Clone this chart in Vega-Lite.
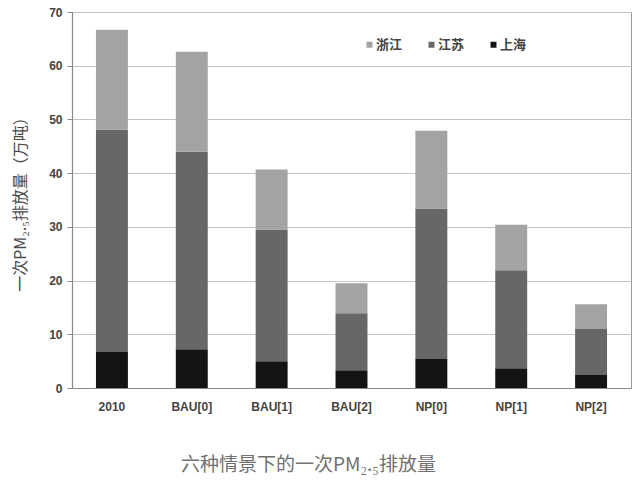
{
  "$schema": "https://vega.github.io/schema/vega-lite/v6.json",
  "width": 559,
  "height": 376,
  "autosize": {"type": "none"},
  "padding": {"left": 72, "top": 12, "right": 9, "bottom": 96},
  "background": "white",
  "config": {
    "view": {"stroke": "#9a9a9a", "strokeWidth": 1},
    "font": "Noto Sans CJK SC"
  },
  "title": {
    "text": "六种情景下的一次PM₂.₅排放量",
    "orient": "bottom",
    "anchor": "middle",
    "dx": -43,
    "offset": 44,
    "fontSize": 19,
    "fontWeight": "normal",
    "color": "#707070",
    "font": "Noto Sans CJK SC"
  },
  "data": {
    "values": [
      {"scenario": "2010", "region": "上海", "value": 6.7, "rank": 1},
      {"scenario": "2010", "region": "江苏", "value": 41.4, "rank": 2},
      {"scenario": "2010", "region": "浙江", "value": 18.6, "rank": 3},
      {"scenario": "BAU[0]", "region": "上海", "value": 7.2, "rank": 1},
      {"scenario": "BAU[0]", "region": "江苏", "value": 36.8, "rank": 2},
      {"scenario": "BAU[0]", "region": "浙江", "value": 18.6, "rank": 3},
      {"scenario": "BAU[1]", "region": "上海", "value": 5.0, "rank": 1},
      {"scenario": "BAU[1]", "region": "江苏", "value": 24.5, "rank": 2},
      {"scenario": "BAU[1]", "region": "浙江", "value": 11.2, "rank": 3},
      {"scenario": "BAU[2]", "region": "上海", "value": 3.3, "rank": 1},
      {"scenario": "BAU[2]", "region": "江苏", "value": 10.6, "rank": 2},
      {"scenario": "BAU[2]", "region": "浙江", "value": 5.6, "rank": 3},
      {"scenario": "NP[0]", "region": "上海", "value": 5.4, "rank": 1},
      {"scenario": "NP[0]", "region": "江苏", "value": 28.0, "rank": 2},
      {"scenario": "NP[0]", "region": "浙江", "value": 14.5, "rank": 3},
      {"scenario": "NP[1]", "region": "上海", "value": 3.7, "rank": 1},
      {"scenario": "NP[1]", "region": "江苏", "value": 18.2, "rank": 2},
      {"scenario": "NP[1]", "region": "浙江", "value": 8.5, "rank": 3},
      {"scenario": "NP[2]", "region": "上海", "value": 2.4, "rank": 1},
      {"scenario": "NP[2]", "region": "江苏", "value": 8.6, "rank": 2},
      {"scenario": "NP[2]", "region": "浙江", "value": 4.6, "rank": 3}
    ]
  },
  "mark": {"type": "bar"},
  "encoding": {
    "x": {
      "field": "scenario",
      "type": "nominal",
      "sort": null,
      "scale": {"paddingInner": 0.6, "paddingOuter": 0.3},
      "axis": {
        "title": null,
        "labelAngle": 0,
        "ticks": false,
        "labelPadding": 13,
        "labelFontSize": 12,
        "labelFontWeight": "bold",
        "labelColor": "#444444",
        "labelFont": "Liberation Sans",
        "domainColor": "#8a8a8a",
        "domainWidth": 1.2
      }
    },
    "y": {
      "field": "value",
      "type": "quantitative",
      "stack": "zero",
      "scale": {"domain": [0, 70]},
      "axis": {
        "title": "一次PM₂.₅排放量（万吨）",
        "titleFontSize": 16,
        "titleFontWeight": "normal",
        "titleColor": "#4a4a4a",
        "titlePadding": 20,
        "values": [0, 10, 20, 30, 40, 50, 60, 70],
        "tickSize": 5,
        "tickColor": "#8a8a8a",
        "labelPadding": 5,
        "labelFontSize": 12,
        "labelFontWeight": "bold",
        "labelColor": "#444444",
        "labelFont": "Liberation Sans",
        "domainColor": "#8a8a8a",
        "domainWidth": 1.2,
        "gridColor": "#c4c4c4",
        "gridWidth": 1.2
      }
    },
    "color": {
      "field": "region",
      "type": "nominal",
      "scale": {
        "domain": ["浙江", "江苏", "上海"],
        "range": ["#a3a3a3", "#676767", "#141414"]
      },
      "legend": {
        "title": null,
        "orient": "none",
        "legendX": 291,
        "legendY": 26,
        "direction": "horizontal",
        "columns": 3,
        "columnPadding": 22,
        "symbolType": "square",
        "symbolSize": 36,
        "symbolStrokeWidth": 0,
        "labelFontSize": 13,
        "labelFontWeight": "bold",
        "labelColor": "#444444",
        "labelOffset": 0
      }
    },
    "order": {"field": "rank", "type": "quantitative", "sort": "ascending"}
  }
}
